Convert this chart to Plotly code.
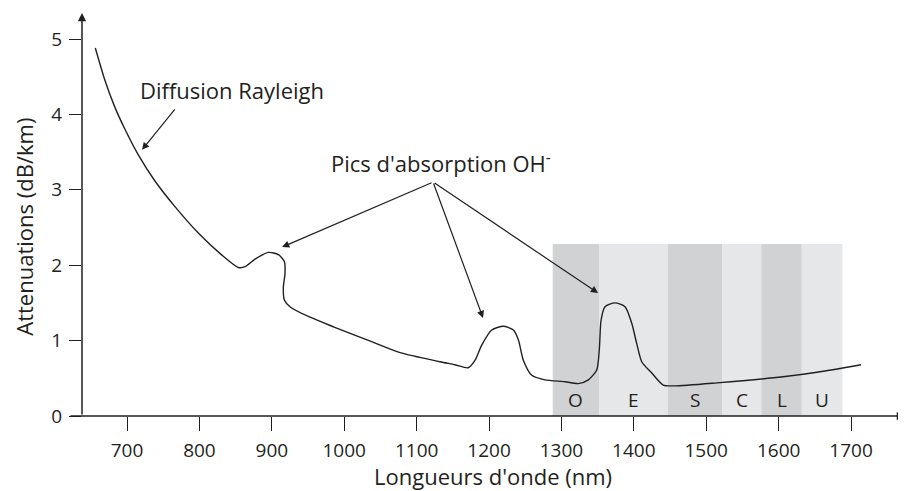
import plotly.graph_objects as go

# Curve data
wavelength_nm = [656.2, 669.2, 683.0, 696.8, 715.2, 738.3, 765.9, 798.1, 830.2, 853.7,
                 863.0, 876.8, 895.2, 909.0, 917.3, 918.2, 915.9, 917.3, 925.1, 950.4,
                 986.0, 1031.5, 1077.1, 1132.3, 1153.0, 1171.4, 1180.7, 1189.9, 1203.7,
                 1219.8, 1233.6, 1240.5, 1247.4, 1259.0, 1277.3, 1305.0, 1323.3, 1337.2,
                 1348.7, 1352.3, 1354.7, 1360.2, 1374.0, 1387.8, 1397.1, 1404.0, 1410.9,
                 1424.7, 1440.7, 1456.9, 1514.9, 1606.1, 1653.0, 1713.8]
attenuation_db_km = [4.88, 4.46, 4.10, 3.81, 3.47, 3.12, 2.78, 2.43, 2.14, 1.97,
                     1.98, 2.08, 2.17, 2.14, 2.05, 1.89, 1.71, 1.54, 1.45, 1.32,
                     1.18, 1.01, 0.84, 0.72, 0.68, 0.64, 0.74, 0.94, 1.14,
                     1.19, 1.14, 1.01, 0.74, 0.54, 0.48, 0.455, 0.43, 0.48,
                     0.61, 0.88, 1.27, 1.45, 1.50, 1.45, 1.23, 0.96, 0.72,
                     0.57, 0.41, 0.40, 0.44, 0.52, 0.58, 0.68]

# Bands
band_labels = ["O", "E", "S", "C", "L", "U"]
band_start = [1288, 1352, 1447, 1522, 1576, 1632]
band_end = [1352, 1447, 1522, 1576, 1632, 1688]
band_top = 2.28
band_label_y = 0.21

x_ticks = [700, 800, 900, 1000, 1100, 1200, 1300, 1400, 1500, 1600, 1700]
y_ticks = [0, 1, 2, 3, 4, 5]

INK = "#231f20"
DARK = "#d1d2d4"
LIGHT = "#e6e7e8"
FONT = "Open Sans"

fig = go.Figure()
fig.add_trace(go.Scatter(x=wavelength_nm, y=attenuation_db_km, mode="lines",
                         line=dict(color=INK, width=1.4, shape="spline", smoothing=0.7),
                         hoverinfo="skip", showlegend=False))

shapes = []
annotations = []
for i, (lab, s, e) in enumerate(zip(band_labels, band_start, band_end)):
    shapes.append(dict(type="rect", xref="x", yref="y", x0=s, x1=e, y0=0, y1=band_top,
                       fillcolor=DARK if i % 2 == 0 else LIGHT, line=dict(width=0), layer="below"))
    annotations.append(dict(x=(s + e) / 2, y=band_label_y, xref="x", yref="y", text=lab,
                            showarrow=False, font=dict(family=FONT, size=19, color=INK)))

# axes with arrows
annotations.append(dict(x=823 / 824, y=0, xref="paper", yref="y", ax=-836, ay=0,
                        axref="pixel", ayref="pixel", text="", showarrow=True,
                        arrowhead=2, arrowsize=1.1, arrowwidth=1.5, arrowcolor=INK))
annotations.append(dict(x=0, y=1, xref="paper", yref="paper", ax=0, ay=403,
                        text="", showarrow=True,
                        arrowhead=2, arrowsize=1.1, arrowwidth=1.5, arrowcolor=INK))

# text labels
annotations.append(dict(x=845, y=4.32, xref="x", yref="y", text="Diffusion Rayleigh",
                        showarrow=False, xanchor="center", yanchor="middle",
                        font=dict(family=FONT, size=22, color=INK)))
annotations.append(dict(x=720.7, y=3.53, xref="x", yref="y", ax=34, ay=-42, text="",
                        showarrow=True, arrowhead=2, arrowsize=1.2, arrowwidth=1.2, arrowcolor=INK))
annotations.append(dict(x=1133.7, y=3.36, xref="x", yref="y", text="Pics d'absorption OH<sup>-</sup>",
                        showarrow=False, xanchor="center", yanchor="middle",
                        font=dict(family=FONT, size=22, color=INK)))
for tx, ty, ax, ay in [(914.1, 2.24, 151, -65), (1191.7, 1.30, -50, -136), (1350.6, 1.63, -165, -111)]:
    annotations.append(dict(x=tx, y=ty, xref="x", yref="y", ax=ax, ay=ay, text="",
                            showarrow=True, arrowhead=2, arrowsize=1.2, arrowwidth=1.2,
                            arrowcolor=INK))

# axis titles
annotations.append(dict(x=(493 - 82) / 824, y=-(476 - 416) / 403, xref="paper", yref="paper",
                        xanchor="center", yanchor="middle",
                        text="Longueurs d'onde (nm)", showarrow=False,
                        font=dict(family=FONT, size=22, color=INK)))
annotations.append(dict(x=(24 - 82) / 824, y=2.51, xref="paper", yref="y", textangle=-90,
                        xanchor="center", yanchor="middle",
                        text="Attenuations (dB/km)", showarrow=False,
                        font=dict(family=FONT, size=22, color=INK)))

# page body has an 8px margin: size figure so the plot lands where the reference has it
fig.update_layout(
    width=898, height=483,
    margin=dict(l=74, r=0, t=5, b=75),
    plot_bgcolor="white", paper_bgcolor="white",
    shapes=shapes, annotations=annotations,
    xaxis=dict(range=[637.8, 1775.9], tickvals=x_ticks, ticks="outside", ticklen=14,
               tickwidth=1.3, tickcolor=INK, showline=False, showgrid=False, zeroline=False,
               tickfont=dict(family=FONT, size=19, color=INK), ticklabelstandoff=3),
    yaxis=dict(range=[0, 5.345], tickvals=y_ticks, ticks="outside", ticklen=12,
               tickwidth=1.3, tickcolor=INK, showline=False, showgrid=False, zeroline=False,
               tickfont=dict(family=FONT, size=19, color=INK), ticklabelstandoff=3),
)

fig.write_html("out.html")
